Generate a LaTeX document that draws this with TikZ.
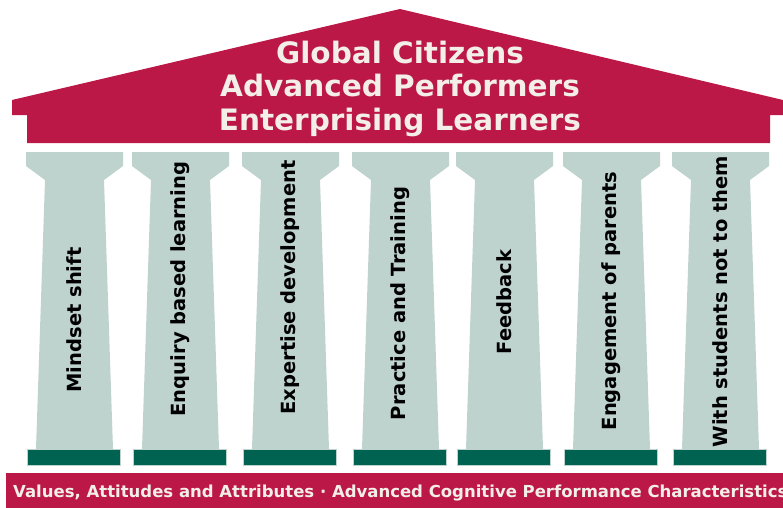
\documentclass[tikz,border=0pt]{standalone}
\usepackage{fontspec}
\setmainfont{DejaVu Sans}

\definecolor{roofred}{RGB}{187,24,71}
\definecolor{pillar}{RGB}{190,210,206}
\definecolor{basegreen}{RGB}{0,98,80}
\definecolor{roofwhite}{RGB}{243,238,232}

\begin{document}
\begin{tikzpicture}[
    % one unit is one pixel of the reference, y runs downwards
    x=1pt, y=-1pt,
    rooftext/.style={text=roofwhite, anchor=base, inner sep=0pt,
        font=\fontsize{29.5}{33}\selectfont\bfseries},
    pillartext/.style={rotate=90, inner sep=0pt,
        font=\fontsize{19.5}{22}\selectfont\bfseries},
    bartext/.style={text=roofwhite, anchor=base west, inner sep=0pt,
        font=\fontsize{16.5}{18}\selectfont\bfseries}
]
    \useasboundingbox (0,0) rectangle (783,507);

    % --- Roof ---
    \coordinate (Apex) at (400,9);
    \coordinate (EaveL) at (12,100);
    \coordinate (EaveR) at (783,100);
    \fill[roofred] (Apex) -- (EaveR) -- (783,115) -- (770,115) -- (770,143)
        -- (27,143) -- (27,115) -- (12,115) -- (EaveL) -- cycle;

    \node[rooftext] (roof1) at (400,63) {Global Citizens};
    \node[rooftext] (roof2) at (400,96.5) {Advanced Performers};
    \node[rooftext] (roof3) at (400,130) {Enterprising Learners};

    % --- Pillars: left edge of the capital, centre of the label, label ---
    \foreach \L/\cy/\txt [count=\i] in {
        26/320/Mindset shift,
        132/289/Enquiry based learning,
        242/287.5/Expertise development,
        352/303.5/Practice and Training,
        456/302/Feedback,
        563/301/Engagement of parents,
        672/301.5/With students not to them}
    {
        \fill[pillar] (\L,152) -- (\L+97,152) -- (\L+97,166) -- (\L+78,180)
            -- (\L+87,449) -- (\L+10,449) -- (\L+19,180) -- (\L,166) -- cycle;
        \filldraw[fill=basegreen, draw=pillar, line width=1pt]
            (\L+1,449) rectangle (\L+94,465);
        \node[pillartext] (lab\i) at (\L+48.5,\cy) {\txt};
    }

    % --- Foundation ---
    \fill[roofred] (6,473) rectangle (800,515);
    \node[bartext] (bar) at (13,497)
        {Values, Attitudes and Attributes · Advanced Cognitive Performance Characteristics};

\end{tikzpicture}
\end{document}
